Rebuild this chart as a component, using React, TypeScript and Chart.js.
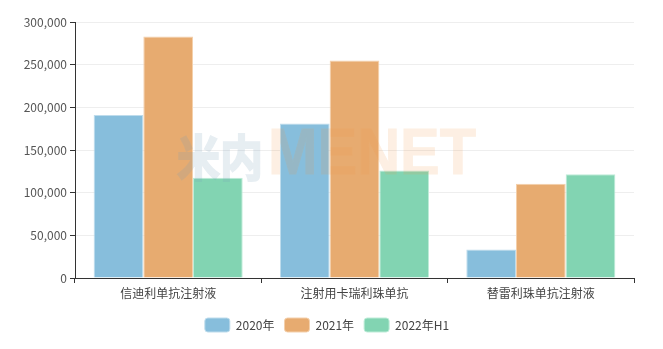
import React, { useEffect, useRef } from "react";
import { Chart, registerables } from "chart.js";

Chart.register(...registerables);

const categories = ["信迪利单抗注射液", "注射用卡瑞利珠单抗", "替雷利珠单抗注射液"];
const seriesNames = ["2020年", "2021年", "2022年H1"];
const values2020 = [191000, 181000, 33500];
const values2021 = [283000, 255000, 110500];
const values2022H1 = [117500, 126000, 121500];
const yTicks = [0, 50000, 100000, 150000, 200000, 250000, 300000];

const fills = ["rgb(135,190,220)", "rgb(231,171,112)", "rgb(130,212,178)"];
const borders = ["rgb(190,220,236)", "rgb(244,208,172)", "rgb(190,236,216)"];

const FONT = "'Noto Sans CJK SC', 'Noto Sans', sans-serif";

function makeMark(text: string, font: string, color: string, targetW: number, stroke: number, sy: number) {
  const c = document.createElement("canvas");
  c.width = 320;
  c.height = 80;
  const g = c.getContext("2d")!;
  g.font = font;
  const w = g.measureText(text).width;
  g.save();
  g.translate(4, 66);
  g.scale((targetW - stroke) / w, sy);
  g.fillStyle = color;
  g.strokeStyle = color;
  g.lineJoin = "miter";
  g.lineWidth = stroke;
  g.fillText(text, 0, 0);
  if (stroke > 0) g.strokeText(text, 0, 0);
  g.restore();
  return c;
}

const watermark = {
  id: "watermark",
  afterDatasetsDraw(chart: any) {
    const ctx = chart.ctx;
    const cn = makeMark("米内", "bold 48px 'Noto Sans CJK SC'", "rgb(120,160,185)", 88, 2, 1.02);
    const en = makeMark("MENET", "bold 64px 'Liberation Sans'", "rgb(240,150,70)", 209, 1, 1);
    ctx.save();
    ctx.globalAlpha = 0.18;
    ctx.drawImage(cn, 177 - 4, 176 - 66);
    ctx.globalAlpha = 0.15;
    ctx.drawImage(en, 268 - 4, 174 - 66);
    ctx.restore();
  },
};

export default function App() {
  const ref = useRef<HTMLCanvasElement>(null);
  useEffect(() => {
    document.body.style.margin = "0";
    const dataSets = [values2020, values2021, values2022H1];
    const chart = new Chart(ref.current!, {
      type: "bar",
      data: {
        labels: categories,
        datasets: seriesNames.map((n, i) => ({
          label: n,
          data: dataSets[i],
          backgroundColor: fills[i],
          borderColor: borders[i],
          borderWidth: 1,
          barPercentage: 1,
          categoryPercentage: 0.8,
        })),
      },
      options: {
        responsive: false,
        animation: false,
        layout: { padding: { top: 22, right: 29, left: 20, bottom: 7 } },
        plugins: {
          tooltip: { enabled: false },
          legend: {
            position: "bottom",
            labels: {
              boxWidth: 25,
              boxHeight: 14,
              padding: 10,
              useBorderRadius: true,
              borderRadius: 3,
              color: "#444",
              font: { family: FONT, size: 12 },
            },
          },
        },
        scales: {
          x: {
            grid: {
              display: true,
              drawOnChartArea: false,
              drawTicks: true,
              tickLength: 5,
              tickColor: "#333",
              offset: true,
            },
            border: { display: true, color: "#333", width: 1 },
            ticks: { color: "#444", font: { family: FONT, size: 12 }, padding: 3, maxRotation: 0 },
            afterFit(scale: any) {
              scale.height = 30;
            },
          },
          y: {
            min: 0,
            max: 300000,
            afterBuildTicks(scale: any) {
              scale.ticks = yTicks.map((v) => ({ value: v }));
            },
            grid: { color: "#eeeeee", tickColor: "#333", tickLength: 5 },
            border: { display: true, color: "#333", width: 1 },
            ticks: {
              color: "#555",
              font: { family: FONT, size: 12 },
              padding: 3,
              callback: (v: any) => Number(v).toLocaleString("en-US"),
            },
            afterFit(scale: any) {
              scale.width = 55;
            },
          },
        },
      },
      plugins: [watermark],
    });
    return () => chart.destroy();
  }, []);
  return <canvas ref={ref} width={663} height={349} style={{ display: "block" }} />;
}
